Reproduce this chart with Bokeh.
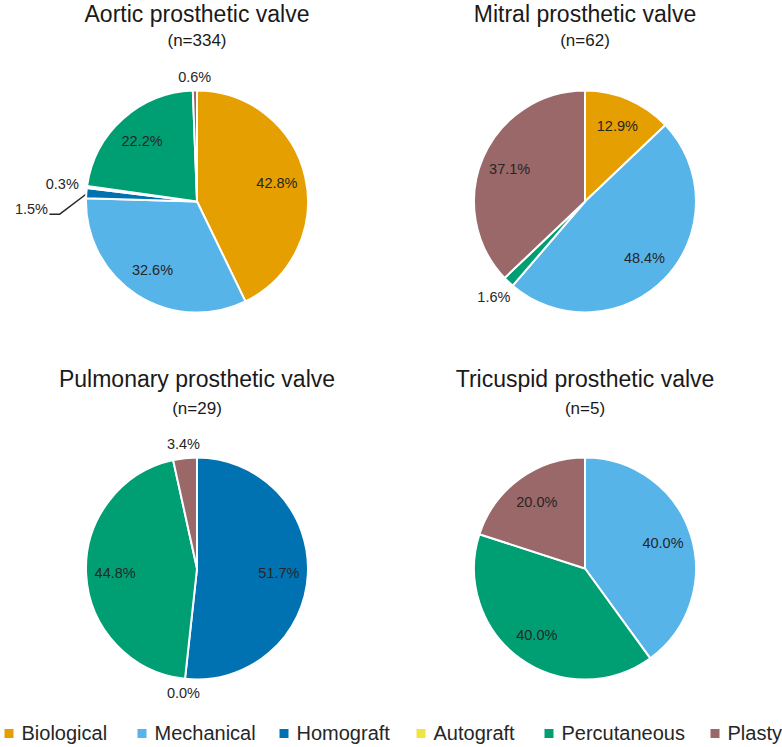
import math

from bokeh.core.properties import value
from bokeh.embed import file_html
from bokeh.models import ColumnDataSource, Range1d
from bokeh.plotting import figure
from bokeh.resources import INLINE

W, H = 782, 747

# ---- data -----------------------------------------------------------------
categories = ["Biological", "Mechanical", "Homograft", "Autograft", "Percutaneous", "Plasty"]

aortic_counts = [143, 109, 5, 1, 74, 2]
mitral_counts = [8, 30, 0, 0, 1, 23]
pulmonary_counts = [0, 0, 15, 0, 13, 1]
tricuspid_counts = [0, 2, 0, 0, 2, 1]

panel_titles = [
    "Aortic prosthetic valve",
    "Mitral prosthetic valve",
    "Pulmonary prosthetic valve",
    "Tricuspid prosthetic valve",
]
panel_counts = [aortic_counts, mitral_counts, pulmonary_counts, tricuspid_counts]

# zero-valued slices whose 0.0% label is still printed
zero_labels = {2: ["Autograft"]}

# ---- style ----------------------------------------------------------------
colors = ["#E69F00", "#56B4E9", "#0072B2", "#F0E442", "#009E73", "#9A6868"]
FONT = "Liberation Sans"
TEXT = "#262626"
R = 111
col_x = [196.5, 584.5]
row_y = [201.0, 568.0]
title_mid = [13.5, 378.0]
sub_mid = [40.0, 408.0]
INSIDE_D = 82
SMALL = 0.05
# labels pulled away from a crowded spot, joined back by a leader line
leader_nudge = {(0, "Homograft"): (-30, 18)}

legend_left = [4, 137, 279, 416, 544, 710]
legend_y = 733


def Y(sy):
    """screen-down pixel row -> data y"""
    return H - sy


p = figure(
    width=W, height=H,
    x_range=Range1d(0, W), y_range=Range1d(0, H),
    output_backend="svg", toolbar_location=None,
    x_axis_location=None, y_axis_location=None,
    min_border=0, outline_line_color=None,
    background_fill_color="white", border_fill_color="white",
)
p.grid.visible = False

for i, counts in enumerate(panel_counts):
    cx = col_x[i % 2]
    cy = row_y[i // 2]
    n = sum(counts)

    wx, wy, ws, we, wc = [], [], [], [], []
    lx, ly, lt = [], [], []
    cum = 0.0
    for cat, c, colr in zip(categories, counts, colors):
        f = c / n
        start, end = cum, cum + f
        cum = end
        if c > 0:
            wx.append(cx)
            wy.append(Y(cy))
            ws.append(math.pi / 2 - 2 * math.pi * end)
            we.append(math.pi / 2 - 2 * math.pi * start)
            wc.append(colr)
        if c == 0 and cat not in zero_labels.get(i, []):
            continue
        theta = (start + end) * math.pi  # clockwise from 12 o'clock
        s, co = math.sin(theta), math.cos(theta)
        if f >= SMALL:
            d = INSIDE_D
        else:
            d = 124 + 12 * abs(s)
        tx, ty = cx + d * s, cy - d * co
        if (i, cat) in leader_nudge:
            ndx, ndy = leader_nudge[(i, cat)]
            tx, ty = tx + ndx, ty + ndy
            ex, ey = cx + (R - 1) * s, cy - (R - 1) * co
            p.line(
                x=[ex, tx + 28, tx + 18],
                y=[Y(ey), Y(ty + 5), Y(ty + 5)],
                line_color="#262626", line_width=1.5,
            )
        lx.append(tx)
        ly.append(Y(ty))
        lt.append(f"{100 * f:.1f}%")

    src = ColumnDataSource(dict(x=wx, y=wy, s=ws, e=we, color=wc))
    p.wedge(
        x="x", y="y", radius=R, start_angle="s", end_angle="e",
        fill_color="color", line_color="white", line_width=2, source=src,
    )
    p.text(
        x=lx, y=ly, text=lt,
        text_font=value(FONT), text_font_size="14.5px", text_color=TEXT,
        text_align="center", text_baseline="middle",
    )

    p.text(
        x=[cx], y=[Y(title_mid[i // 2])], text=[panel_titles[i]],
        text_font=value(FONT), text_font_size="23px", text_color="#1a1a1a",
        text_align="center", text_baseline="middle",
    )
    p.text(
        x=[cx], y=[Y(sub_mid[i // 2])], text=[f"(n={n})"],
        text_font=value(FONT), text_font_size="17px", text_color="#1a1a1a",
        text_align="center", text_baseline="middle",
    )

# legend row
p.rect(
    x=[xl + 4.5 for xl in legend_left], y=[Y(legend_y)] * len(categories),
    width=9, height=9, fill_color=colors, line_color=None,
)
p.text(
    x=[xl + 17 for xl in legend_left], y=[Y(732)] * len(categories), text=categories,
    text_font=value(FONT), text_font_size="20px", text_color=TEXT,
    text_align="left", text_baseline="middle",
)

open("out.html", "w").write(file_html(p, INLINE))
